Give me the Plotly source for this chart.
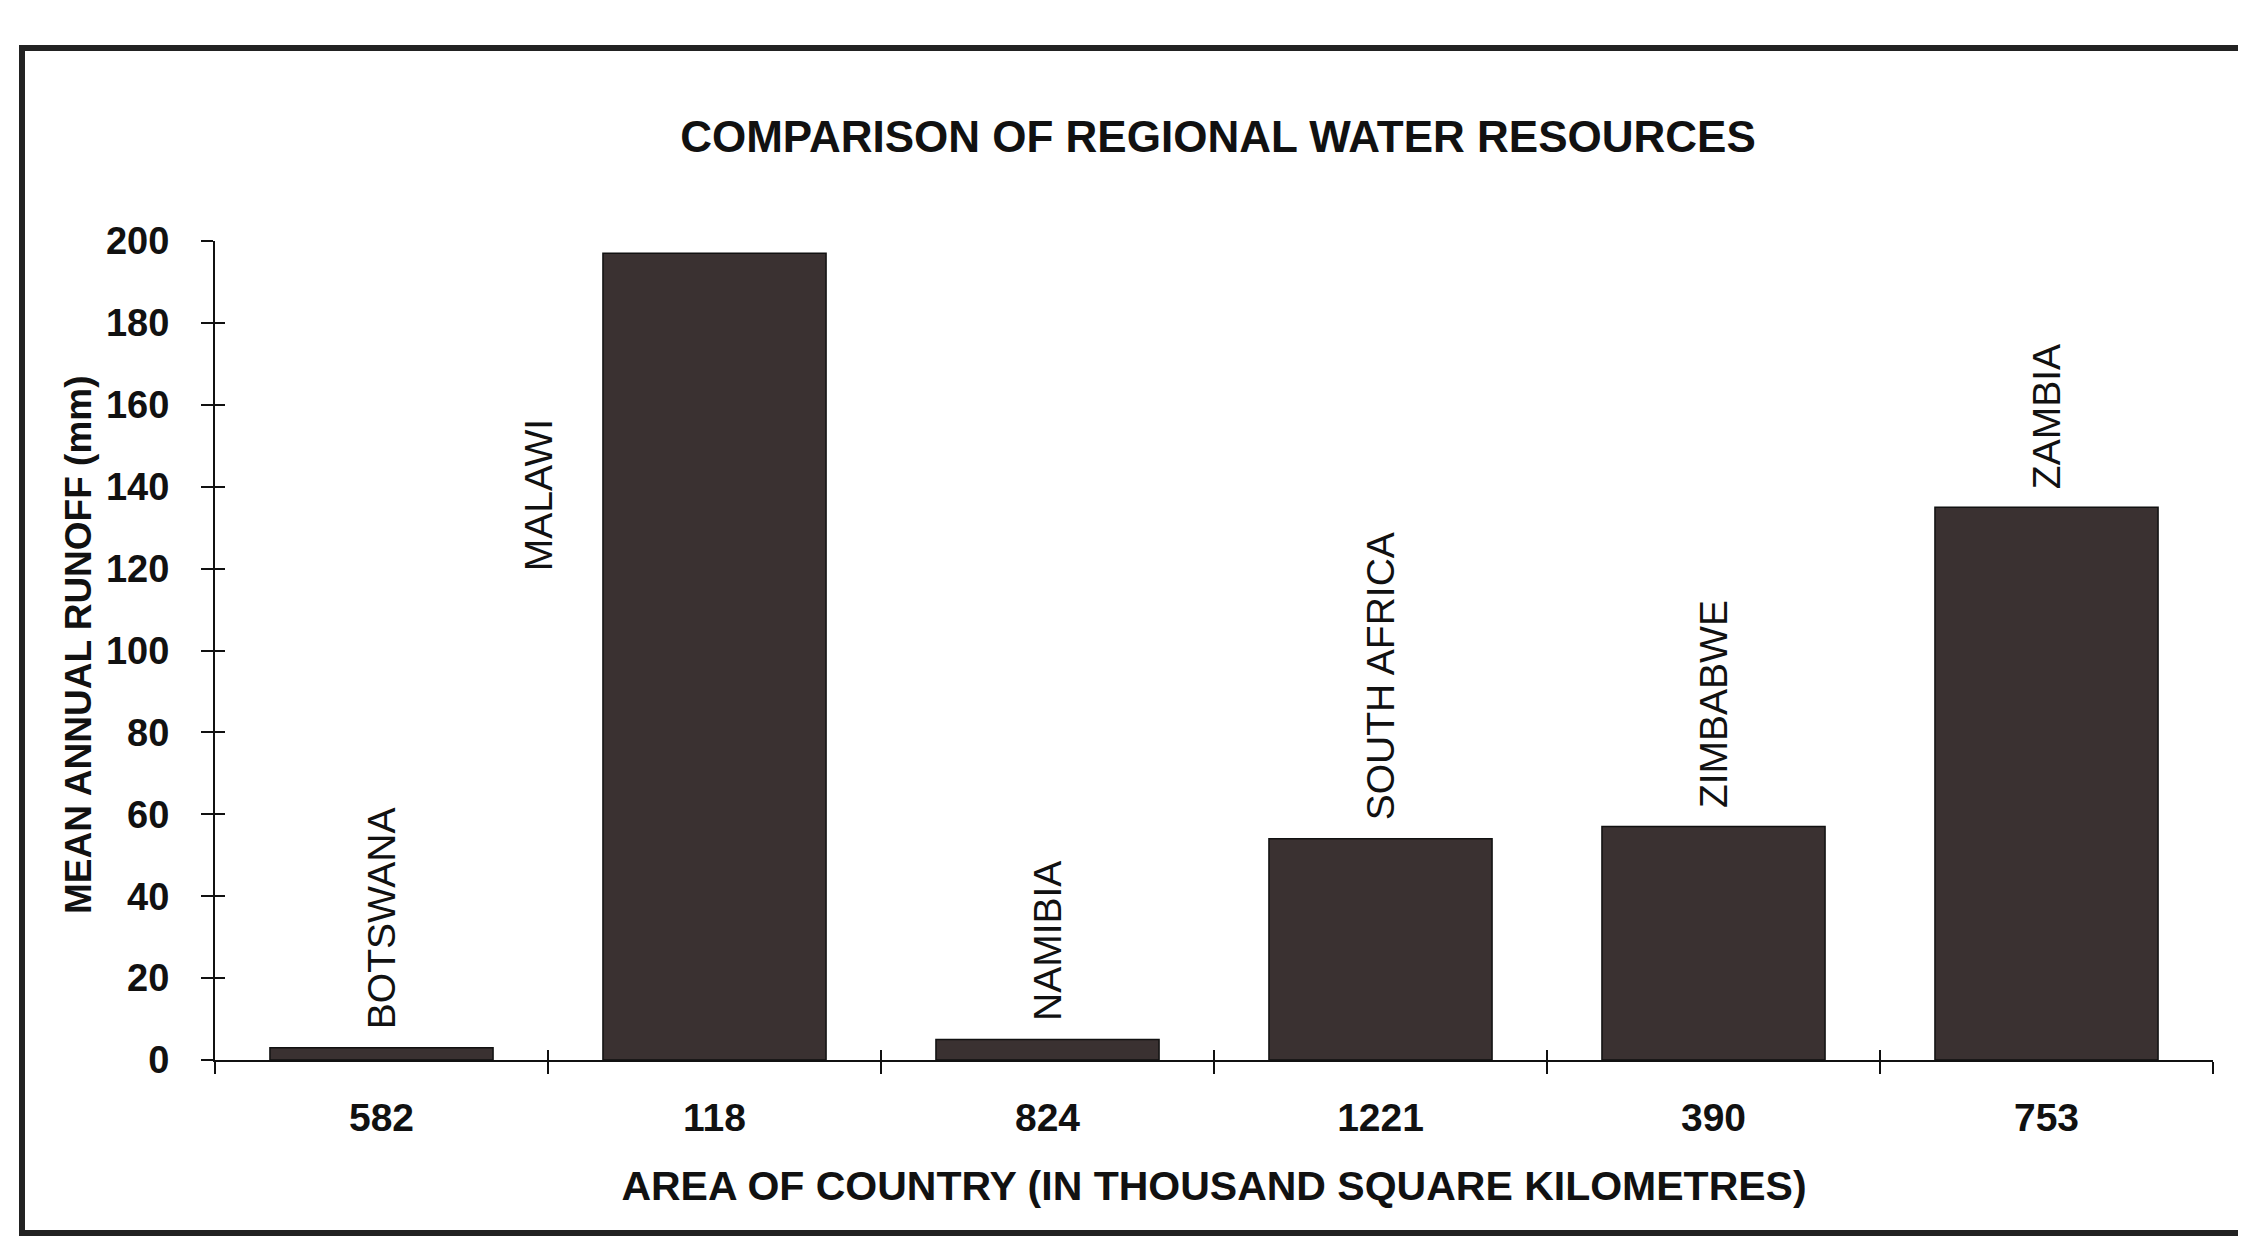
import plotly.graph_objects as go

countries = ["BOTSWANA", "MALAWI", "NAMIBIA", "SOUTH AFRICA", "ZIMBABWE", "ZAMBIA"]
areas = ["582", "118", "824", "1221", "390", "753"]
runoff = [3, 197, 5, 54, 57, 135]
y_ticks = [0, 20, 40, 60, 80, 100, 120, 140, 160, 180, 200]

BAR = "#3a3131"
INK = "#111111"
FONT = "Liberation Sans, Arial, sans-serif"

L, R, T, B = 207, 41, 233, 186
W, H = 2246, 1238
pw, ph = W - L - R, H - T - B

fig = go.Figure()
fig.add_trace(go.Bar(
    x=countries, y=runoff,
    marker=dict(color=BAR, line=dict(color=INK, width=1.5)),
    width=0.67, hoverinfo="x+y", showlegend=False,
))
# invisible companion trace carrying the inner half of the crossing ticks
fig.add_trace(go.Bar(
    x=countries, y=runoff, xaxis="x2", yaxis="y2", width=0.67,
    marker=dict(color="rgba(0,0,0,0)", line=dict(width=0)),
    hoverinfo="skip", showlegend=False,
))

annotations = []
for i, (c, v) in enumerate(zip(countries, runoff)):
    if v > 180:
        annotations.append(dict(x=i - 0.5, y=v * 0.70, xref="x", yref="y", text=c,
                                textangle=-90, showarrow=False, xanchor="center",
                                yanchor="middle", xshift=-10,
                                font=dict(family=FONT, size=39, color=INK)))
    else:
        annotations.append(dict(x=i, y=v, xref="x", yref="y", text=c,
                                textangle=-90, showarrow=False, xanchor="center",
                                yanchor="bottom", yshift=16,
                                font=dict(family=FONT, size=39, color=INK)))

# y-axis title
annotations.append(dict(text="<b>MEAN ANNUAL RUNOFF (mm)</b>", xref="paper", yref="paper",
                        x=(70 - L) / pw, y=((H - B) - 637) / ph, textangle=-90,
                        showarrow=False, xanchor="center", yanchor="middle",
                        font=dict(family=FONT, size=37, color=INK)))

fig.update_layout(
    width=W, height=H,
    margin=dict(l=L, r=R, t=T, b=B),
    paper_bgcolor="white", plot_bgcolor="white",
    title=dict(text="<b>COMPARISON OF REGIONAL WATER RESOURCES</b>",
               x=1210 / W, xanchor="center", y=1 - 129 / H, yanchor="middle",
               font=dict(family=FONT, size=44, color=INK)),
    xaxis=dict(type="category", categoryarray=countries, automargin=False,
               tickmode="array", tickvals=countries,
               ticktext=[f"<b>{a}</b>" for a in areas],
               tickson="boundaries", ticks="outside", ticklen=12, tickwidth=2,
               tickcolor=INK, showline=True, linecolor=INK, linewidth=2,
               showgrid=False, zeroline=False, ticklabelstandoff=22,
               tickfont=dict(family=FONT, size=39, color=INK),
               title=dict(text="<b>AREA OF COUNTRY (IN THOUSAND SQUARE KILOMETRES)</b>",
                          standoff=34, font=dict(family=FONT, size=41, color=INK))),
    yaxis=dict(range=[0, 200], tickmode="array", tickvals=y_ticks, automargin=False,
               ticktext=[f"<b>{t}</b>" for t in y_ticks],
               ticks="outside", ticklen=12, tickwidth=2, tickcolor=INK,
               showline=True, linecolor=INK, linewidth=2,
               showgrid=False, zeroline=False, ticklabelstandoff=24,
               tickfont=dict(family=FONT, size=38, color=INK)),
    xaxis2=dict(type="category", categoryarray=countries, overlaying="x",
                matches="x", tickson="boundaries", ticks="inside", ticklen=10,
                tickwidth=2, tickcolor=INK, showticklabels=False, automargin=False,
                showgrid=False, zeroline=False, showline=False),
    yaxis2=dict(range=[0, 200], overlaying="y", tickmode="array", tickvals=y_ticks,
                ticks="inside", ticklen=10, tickwidth=2, tickcolor=INK, automargin=False,
                showticklabels=False, showgrid=False, zeroline=False, showline=False),
    annotations=annotations,
    shapes=[dict(type="rect", xref="paper", yref="paper",
                 x0=(14 - L) / pw, x1=(2243 - L) / pw,
                 y0=-(1225 - (H - B)) / ph, y1=1 + (T - 40) / ph,
                 line=dict(color="#222", width=6))],
)

fig.write_html("out.html")
